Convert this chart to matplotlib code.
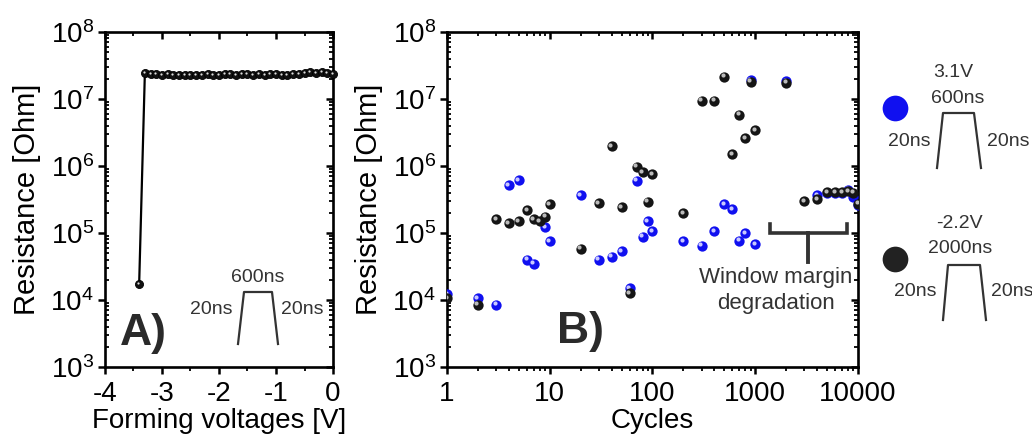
import math

import matplotlib
matplotlib.use("Agg")
import matplotlib.pyplot as plt
import matplotlib.transforms as mtransforms
from matplotlib.ticker import LogLocator, FixedLocator, MultipleLocator, NullFormatter, FuncFormatter

plt.rcParams["font.family"] = ["Liberation Sans", "DejaVu Sans"]
plt.rcParams["mathtext.fontset"] = "custom"
plt.rcParams["mathtext.rm"] = "Liberation Sans"
plt.rcParams["mathtext.default"] = "regular"
plt.rcParams["axes.unicode_minus"] = False

# panel A: forming sweep
volt = [-3.4, -3.3, -3.2, -3.1, -3.0, -2.9, -2.8, -2.7, -2.6, -2.5, -2.4, -2.3,
        -2.2, -2.1, -2.0, -1.9, -1.8, -1.7, -1.6, -1.5, -1.4, -1.3, -1.2, -1.1,
        -1.0, -0.9, -0.8, -0.7, -0.6, -0.5, -0.4, -0.3, -0.2, -0.1, 0.0]
res_form = [1.75e4, 2.45e7, 2.4e7, 2.35e7, 2.3e7, 2.35e7, 2.3e7, 2.25e7, 2.25e7,
            2.3e7, 2.3e7, 2.3e7, 2.35e7, 2.3e7, 2.3e7, 2.35e7, 2.35e7, 2.3e7,
            2.35e7, 2.35e7, 2.3e7, 2.35e7, 2.3e7, 2.35e7, 2.35e7, 2.3e7, 2.3e7,
            2.35e7, 2.4e7, 2.45e7, 2.5e7, 2.45e7, 2.5e7, 2.45e7, 2.4e7]

# panel B: endurance
cyc_blue = [1, 2, 3, 4, 5, 6, 7, 9, 10, 20, 30, 40, 50, 60, 70, 80, 90, 100,
            200, 300, 400, 500, 600, 700, 800, 900, 1000, 2000, 4000, 5000,
            6000, 7000, 8000, 9000, 10000]
res_blue = [1.23e4, 1.07e4, 8.5e3, 5.2e5, 6.1e5, 4.0e4, 3.5e4, 1.23e5, 7.6e4,
            3.7e5, 4.0e4, 4.4e4, 5.3e4, 1.5e4, 6.0e5, 8.8e4, 1.5e5, 1.07e5,
            7.5e4, 6.5e4, 1.07e5, 2.7e5, 2.26e5, 7.7e4, 1.0e5, 1.9e7, 6.8e4,
            1.85e7, 3.7e5, 4.0e5, 4.0e5, 4.0e5, 4.4e5, 3.5e5, 2.6e5]
cyc_black = [1, 2, 3, 4, 5, 6, 7, 8, 9, 10, 20, 30, 40, 50, 60, 70, 80, 90, 100,
             200, 300, 400, 500, 600, 700, 800, 900, 1000, 2000, 3000, 4000,
             5000, 6000, 7000, 8000, 9000, 10000]
res_black = [1.07e4, 8.5e3, 1.6e5, 1.4e5, 1.5e5, 2.2e5, 1.6e5, 1.5e5, 1.75e5,
             2.7e5, 5.8e4, 2.8e5, 1.96e6, 2.45e5, 1.25e4, 9.8e5, 8.0e5, 2.95e5,
             7.5e5, 1.96e5, 9.4e6, 9.4e6, 2.15e7, 1.5e6, 5.8e6, 2.6e6, 1.8e7,
             3.4e6, 1.75e7, 3.0e5, 3.2e5, 4.1e5, 4.1e5, 4.1e5, 4.2e5, 4.0e5, 2.75e5]

BLUE = "#1010f0"
TXT = "#333333"


def pow10(v, pos):
    return r"$10^{%d}$" % round(math.log10(v))


def style_axes(ax):
    for sp in ax.spines.values():
        sp.set_linewidth(1.9)
    ax.tick_params(which="major", direction="out", length=5, width=1.8, labelsize=20)
    ax.tick_params(axis="y", which="major", pad=3)
    ax.tick_params(axis="x", which="major", pad=5)
    ax.tick_params(which="minor", length=3, width=1.3)
    ax.tick_params(axis="y", which="minor", direction="in")
    ax.tick_params(axis="x", which="minor", direction="out")
    ax.set_yscale("log")
    ax.set_ylim(1e3, 1e8)
    ax.yaxis.set_major_locator(LogLocator(base=10, numticks=10))
    ax.yaxis.set_minor_locator(LogLocator(base=10, subs=range(2, 10), numticks=20))
    ax.yaxis.set_major_formatter(FuncFormatter(pow10))
    ax.yaxis.set_minor_formatter(NullFormatter())
    ax.set_ylabel("Resistance [Ohm]", fontsize=21, labelpad=7)
    # mirrored ticks pointing inward on top and right
    top = ax.secondary_xaxis("top")
    right = ax.secondary_yaxis("right")
    for sec in (top, right):
        sec.tick_params(which="major", direction="in", length=5, width=1.8)
        sec.tick_params(which="minor", direction="in", length=3, width=1.3)
    top.xaxis.set_major_formatter(NullFormatter())
    top.xaxis.set_minor_formatter(NullFormatter())
    right.yaxis.set_major_formatter(NullFormatter())
    right.yaxis.set_minor_formatter(NullFormatter())
    return top, right


fig = plt.figure(figsize=(10.32, 4.43), dpi=100)
axA = fig.add_axes([0.1017, 0.1716, 0.2210, 0.7562])
axB = fig.add_axes([0.4331, 0.1716, 0.3983, 0.7562])

# ---- panel A
axA.set_xlim(-4, 0)
topA, rightA = style_axes(axA)
axA.xaxis.set_major_locator(MultipleLocator(1))
axA.xaxis.set_minor_locator(MultipleLocator(0.5))
topA.xaxis.set_major_locator(MultipleLocator(1))
topA.xaxis.set_minor_locator(MultipleLocator(0.5))
axA.plot(volt, res_form, "-", color="black", lw=1.6, zorder=2)
axA.plot(volt, res_form, "o", ms=5.8, mfc="#111111", mec="black", mew=0.6,
         zorder=3, clip_on=False)
hlA = mtransforms.offset_copy(axA.transData, fig=fig, x=-1.0, y=1.0, units="dots")
axA.plot(volt, res_form, "o", ms=1.6, color="#dddddd", mew=0, transform=hlA,
         zorder=4, clip_on=False)
axA.set_xlabel("Forming voltages [V]", fontsize=20, labelpad=1)
axA.text(0.17, 0.10, "A)", transform=axA.transAxes, fontsize=32,
         fontweight="bold", color="#2a2a2a", ha="center", va="center")

# ---- panel B
axB.set_xscale("log")
axB.set_xlim(1, 10000)
topB, rightB = style_axes(axB)
axB.xaxis.set_major_locator(FixedLocator([1, 10, 100, 1000, 10000]))
axB.xaxis.set_major_formatter(FuncFormatter(lambda v, p: "%d" % v))
axB.xaxis.set_minor_locator(LogLocator(base=10, subs=range(2, 10), numticks=20))
axB.xaxis.set_minor_formatter(NullFormatter())
topB.xaxis.set_major_locator(FixedLocator([1, 10, 100, 1000, 10000]))
topB.xaxis.set_minor_locator(LogLocator(base=10, subs=range(2, 10), numticks=20))
axB.set_xlabel("Cycles", fontsize=20, labelpad=1)

hlB = mtransforms.offset_copy(axB.transData, fig=fig, x=-1.4, y=1.4, units="dots")
axB.scatter(cyc_blue, res_blue, s=55, color=BLUE, linewidths=0, zorder=3)
axB.scatter(cyc_blue, res_blue, s=9, color="#c8c8ff", linewidths=0,
            transform=hlB, zorder=3.1)
axB.scatter(cyc_black, res_black, s=55, color="#151515", linewidths=0, zorder=4)
axB.scatter(cyc_black, res_black, s=9, color="#bbbbbb", linewidths=0,
            transform=hlB, zorder=4.1)
axB.text(0.325, 0.105, "B)", transform=axB.transAxes, fontsize=32,
         fontweight="bold", color="#2a2a2a", ha="center", va="center")

# ---- annotations drawn in pixel space
ov = fig.add_axes([0, 0, 1, 1], zorder=10)
ov.set_xlim(0, 1032)
ov.set_ylim(443, 0)
ov.axis("off")
ov.patch.set_alpha(0)

# bracket
ov.plot([770, 770, 847, 847], [224, 233, 233, 224], color=TXT, lw=2.6,
        solid_joinstyle="miter")
ov.plot([808, 808], [233, 262], color=TXT, lw=2.8)
ov.text(776, 277, "Window margin", fontsize=16, color=TXT, ha="center", va="center")
ov.text(776, 303, "degradation", fontsize=16, color=TXT, ha="center", va="center")

# pulse in panel A
ov.plot([238, 244, 272, 278], [344, 292, 292, 344], color=TXT, lw=1.6)
ov.text(258, 278, "600ns", fontsize=14, color=TXT, ha="center", va="center")
ov.text(211, 310, "20ns", fontsize=14, color=TXT, ha="center", va="center")
ov.text(302, 310, "20ns", fontsize=14, color=TXT, ha="center", va="center")

# side legend: SET pulse
ov.plot([895], [108], "o", ms=18.5, color=BLUE, mew=0, clip_on=False)
ov.text(953, 72, "3.1V", fontsize=14, color=TXT, ha="center", va="center")
ov.text(958, 98, "600ns", fontsize=14, color=TXT, ha="center", va="center")
ov.plot([937, 943, 974, 981], [168, 113, 113, 168], color=TXT, lw=1.6)
ov.text(909, 141, "20ns", fontsize=14, color=TXT, ha="center", va="center")
ov.text(987, 141, "20ns", fontsize=14, color=TXT, ha="left", va="center")

# side legend: RESET pulse
ov.plot([895], [259], "o", ms=18.5, color="#222222", mew=0, clip_on=False)
ov.text(959, 223, "-2.2V", fontsize=14, color=TXT, ha="center", va="center")
ov.text(960, 248, "2000ns", fontsize=14, color=TXT, ha="center", va="center")
ov.plot([943, 948, 980, 986], [320, 265, 265, 320], color=TXT, lw=1.6)
ov.text(915, 292, "20ns", fontsize=14, color=TXT, ha="center", va="center")
ov.text(991, 292, "20ns", fontsize=14, color=TXT, ha="left", va="center")

fig.savefig("out.png", dpi=100)
